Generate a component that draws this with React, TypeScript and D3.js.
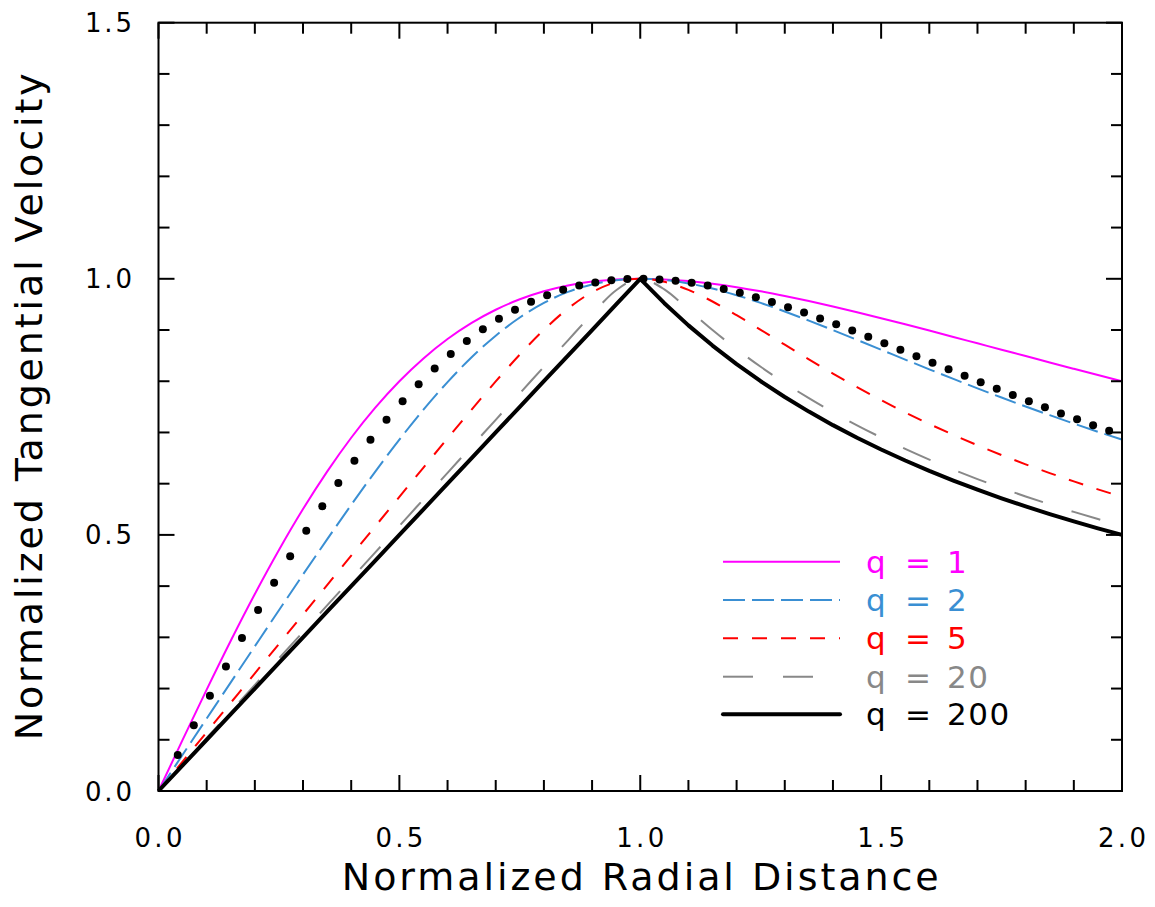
import React from "react";
import * as d3 from "d3";

// ---- data ----
const rGrid = [0, 0.05, 0.1, 0.15, 0.2, 0.25, 0.3, 0.35, 0.4, 0.45, 0.5, 0.55, 0.6, 0.65, 0.7, 0.75, 0.8, 0.85, 0.9, 0.95, 1.0,
  1.05, 1.1, 1.15, 1.2, 1.25, 1.3, 1.35, 1.4, 1.45, 1.5, 1.55, 1.6, 1.65, 1.7, 1.75, 1.8, 1.85, 1.9, 1.95, 2.0];

const q1 = [0, 0.0998, 0.198, 0.2934, 0.3846, 0.4706, 0.5505, 0.6236, 0.6897, 0.7484, 0.8, 0.8445, 0.8824, 0.9139, 0.9396, 0.96, 0.9756, 0.9869, 0.9945, 0.9987, 1,
  0.9988, 0.9955, 0.9903, 0.9836, 0.9756, 0.9665, 0.9566, 0.9459, 0.9347, 0.9231, 0.9111, 0.8989, 0.8865, 0.874, 0.8615, 0.8491, 0.8366, 0.8243, 0.8121, 0.8];
const q2 = [0, 0.0707, 0.1414, 0.2121, 0.2826, 0.3529, 0.4226, 0.4913, 0.5586, 0.6237, 0.686, 0.7445, 0.7984, 0.8468, 0.889, 0.9245, 0.9529, 0.9744, 0.989, 0.9974, 1,
  0.9976, 0.991, 0.9809, 0.968, 0.9529, 0.9362, 0.9184, 0.8998, 0.8808, 0.8616, 0.8423, 0.8233, 0.8045, 0.7862, 0.7682, 0.7507, 0.7338, 0.7173, 0.7014, 0.686];
const q5 = [0, 0.0574, 0.1149, 0.1723, 0.2297, 0.2872, 0.3446, 0.402, 0.4595, 0.5169, 0.5742, 0.6315, 0.6884, 0.7447, 0.7996, 0.8521, 0.9004, 0.9419, 0.9738, 0.9935, 1,
  0.9941, 0.9783, 0.9557, 0.929, 0.9004, 0.8713, 0.8427, 0.8149, 0.7884, 0.7632, 0.7392, 0.7166, 0.6953, 0.6751, 0.6559, 0.6378, 0.6207, 0.6044, 0.5889, 0.5743];
const q20 = [0, 0.0518, 0.1035, 0.1553, 0.2071, 0.2588, 0.3106, 0.3623, 0.4141, 0.4659, 0.5176, 0.5694, 0.6212, 0.6729, 0.7247, 0.7764, 0.8282, 0.8799, 0.9311, 0.9776, 1,
  0.9794, 0.9401, 0.9001, 0.8627, 0.8282, 0.7964, 0.7669, 0.7395, 0.714, 0.6902, 0.6679, 0.647, 0.6274, 0.609, 0.5916, 0.5751, 0.5596, 0.5449, 0.5309, 0.5176];
const q200 = [0, 0.05, 0.1, 0.15, 0.2, 0.25, 0.3, 0.35, 0.4, 0.45, 0.5, 0.55, 0.6, 0.65, 0.7, 0.75, 0.8, 0.85, 0.9, 0.95, 1,
  0.9524, 0.9091, 0.8696, 0.8333, 0.8, 0.7692, 0.7407, 0.7143, 0.6897, 0.6667, 0.6452, 0.625, 0.6061, 0.5882, 0.5714, 0.5556, 0.5405, 0.5263, 0.5128, 0.5];

const rDots = [0.04, 0.0733, 0.1067, 0.14, 0.1733, 0.2067, 0.24, 0.2733, 0.3067, 0.34,
  0.3733, 0.4067, 0.44, 0.4733, 0.5067, 0.54, 0.5733, 0.6067, 0.64, 0.6733,
  0.7067, 0.74, 0.7733, 0.8067, 0.84, 0.8733, 0.9067, 0.94, 0.9733, 1.0067,
  1.04, 1.0733, 1.1067, 1.14, 1.1733, 1.2067, 1.24, 1.2733, 1.3067, 1.34,
  1.3733, 1.4067, 1.44, 1.4733, 1.5067, 1.54, 1.5733, 1.6067, 1.64, 1.6733,
  1.7067, 1.74, 1.7733, 1.8067, 1.84, 1.8733, 1.9067, 1.94, 1.9733];
const vDots = [0.0702, 0.1284, 0.186, 0.2429, 0.2988, 0.3534, 0.4067, 0.4583, 0.508, 0.5558,
  0.6015, 0.645, 0.686, 0.7246, 0.7607, 0.7941, 0.825, 0.8532, 0.8787, 0.9016,
  0.9219, 0.9397, 0.955, 0.9679, 0.9784, 0.9868, 0.993, 0.9972, 0.9995, 1.0,
  0.9988, 0.9962, 0.9921, 0.9867, 0.9802, 0.9726, 0.9641, 0.9547, 0.9446, 0.934,
  0.9227, 0.9111, 0.8991, 0.8868, 0.8743, 0.8616, 0.8489, 0.8361, 0.8234, 0.8107,
  0.798, 0.7855, 0.7732, 0.761, 0.749, 0.7372, 0.7256, 0.7142, 0.7031];

const legendLabels = ["1", "2", "5", "20", "200"];
const xTickValues = [0, 0.5, 1, 1.5, 2];
const xTickLabels = ["0.0", "0.5", "1.0", "1.5", "2.0"];
const yTickValues = [0, 0.5, 1, 1.5];
const yTickLabels = ["0.0", "0.5", "1.0", "1.5"];

// ---- layout ----
const W = 1155, H = 907;
const L = 158.5, R = 1122, T = 22.7, B = 791;
const FONT = "'DejaVu Sans', sans-serif";

const series = [
  { values: q1, color: "#ff00ff", dash: "", width: 2, linear: false },
  { values: q2, color: "#3a8fd3", dash: "22 7", width: 2, linear: false },
  { values: q5, color: "#ff0000", dash: "15 14", width: 2, linear: false },
  { values: q20, color: "#888888", dash: "30 30", width: 2, linear: false },
  { values: q200, color: "#000000", dash: "", width: 4, linear: true },
];

export default function App() {
  const x = d3.scaleLinear().domain([0, 2]).range([L, R]);
  const y = d3.scaleLinear().domain([0, 1.5]).range([B, T]);

  const xMinor = x.ticks(20);
  const yMinor = y.ticks(15);
  const isMajor = (v: number) => Math.abs(v * 2 - Math.round(v * 2)) < 1e-6;

  const makeLine = (linear: boolean) =>
    d3.line<number>()
      .x((_, i) => x(rGrid[i]))
      .y((d) => y(d))
      .curve(linear ? d3.curveLinear : d3.curveMonotoneX);

  const legendRowY = [561.7, 600, 638.3, 676.7, 714.3];

  return (
    <svg width={W} height={H} style={{ position: "absolute", left: 0, top: 0, background: "#fff" }}>
      <rect x={0} y={0} width={W} height={H} fill="#fff" />
      {/* curves */}
      <g fill="none">
        {series.map((s, i) => (
          <path key={i} d={makeLine(s.linear)(s.values) || ""} stroke={s.color}
            strokeWidth={s.width} strokeDasharray={s.dash || undefined}
            strokeLinejoin="round" />
        ))}
      </g>
      {/* dots */}
      <g fill="#000">
        {rDots.map((r, i) => (
          <circle key={i} cx={x(r)} cy={y(vDots[i])} r={4} />
        ))}
      </g>
      {/* frame */}
      <rect x={L} y={T} width={R - L} height={B - T} fill="none" stroke="#000" strokeWidth={2} />
      {/* ticks */}
      <g stroke="#000" strokeWidth={2}>
        {xMinor.map((v, i) => {
          const len = isMajor(v) ? 16 : 11;
          return (
            <g key={"x" + i}>
              <line x1={x(v)} x2={x(v)} y1={B} y2={B - len} />
              <line x1={x(v)} x2={x(v)} y1={T} y2={T + len} />
            </g>
          );
        })}
        {yMinor.map((v, i) => {
          const len = isMajor(v) ? 16 : 11;
          return (
            <g key={"y" + i}>
              <line x1={L} x2={L + len} y1={y(v)} y2={y(v)} />
              <line x1={R} x2={R - len} y1={y(v)} y2={y(v)} />
            </g>
          );
        })}
      </g>
      {/* tick labels */}
      <g fontFamily={FONT} fontSize={26} fill="#000">
        {xTickValues.map((v, i) => (
          <text key={"xl" + i} x={x(v)} y={847} textAnchor="middle"
            textLength={48} lengthAdjust="spacing">{xTickLabels[i]}</text>
        ))}
        {yTickValues.map((v, i) => (
          <text key={"yl" + i} x={132} y={y(v) + 9.5} textAnchor="end"
            textLength={47} lengthAdjust="spacing">{yTickLabels[i]}</text>
        ))}
      </g>
      {/* axis titles */}
      <text x={(L + R) / 2} y={890} textAnchor="middle" fontFamily={FONT} fontSize={38}
        textLength={597} lengthAdjust="spacing">Normalized Radial Distance</text>
      <text transform={`translate(42,${(T + B) / 2}) rotate(-90)`} textAnchor="middle"
        fontFamily={FONT} fontSize={38} textLength={667} lengthAdjust="spacing">
        Normalized Tangential Velocity
      </text>
      {/* legend */}
      <g fontFamily={FONT} fontSize={31}>
        {series.map((s, i) => (
          <g key={"lg" + i}>
            <line x1={723} x2={840} y1={legendRowY[i]} y2={legendRowY[i]} stroke={s.color}
              strokeWidth={s.width} strokeDasharray={s.dash || undefined}
              strokeLinecap={s.width > 2 ? "round" : "butt"} />
            <text x={866} y={legendRowY[i] + 11} fill={s.color}>q</text>
            <text x={905} y={legendRowY[i] + 11} fill={s.color}>=</text>
            <text x={947} y={legendRowY[i] + 11} fill={s.color} letterSpacing={1.5}>{legendLabels[i]}</text>
          </g>
        ))}
      </g>
    </svg>
  );
}
